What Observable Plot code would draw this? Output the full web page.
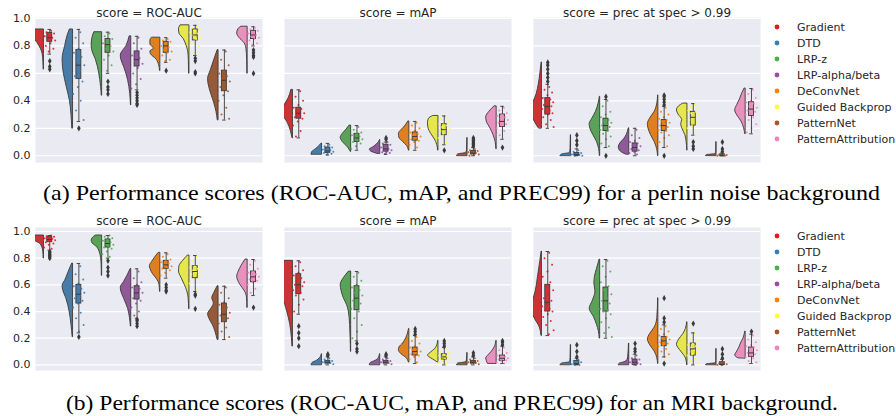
<!DOCTYPE html>
<html><head><meta charset="utf-8">
<script src="https://cdn.jsdelivr.net/npm/d3@7"></script>
<script src="https://cdn.jsdelivr.net/npm/@observablehq/plot@0.6"></script>
<style>
body{margin:0;background:#fff;}
#page{position:relative;width:896px;height:416px;overflow:hidden;font-family:'DejaVu Sans';}
.abs{position:absolute;}
</style></head><body>
<div id="page"><div id="row1" class="abs" style="left:0;top:0"></div><div id="row2" class="abs" style="left:0;top:205px"></div></div>
<script>
const methods = ["Gradient","DTD","LRP-z","LRP-alpha/beta","DeConvNet","Guided Backprop","PatternNet","PatternAttribution"];
const pointColors = ["#e41a1c","#377eb8","#4daf4a","#984ea3","#ff7f00","#ffff33","#a65628","#f781bf"];
const bodyColors = ["#cb3335","#477ca8","#59a257","#905998","#df7f20","#e6e64d","#965a38","#e890be"];
const scores = ["ROC-AUC","mAP","prec at spec > 0.99"];
const yTicks = [0,0.2,0.4,0.6,0.8,1.0];
const captions = ["(a) Performance scores (ROC-AUC, mAP, and PREC99) for a perlin noise background",
                  "(b) Performance scores (ROC-AUC, mAP, and PREC99) for an MRI background."];

// box stats: [lower whisker, q1, median, q3, upper whisker]
const perlinRocBox = [[0.74,0.83,0.86,0.895,0.92],[0.25,0.56,0.66,0.77,0.92],[0.60,0.75,0.81,0.85,0.90],[0.48,0.65,0.70,0.76,0.87],[0.68,0.75,0.80,0.83,0.86],[0.73,0.84,0.88,0.92,0.95],[0.26,0.47,0.55,0.62,0.77],[0.80,0.85,0.88,0.91,0.94]];
const perlinMapBox = [[0.13,0.27,0.31,0.35,0.48],[0.005,0.02,0.035,0.06,0.09],[0.04,0.10,0.13,0.16,0.22],[0.01,0.03,0.05,0.08,0.10],[0.04,0.11,0.14,0.17,0.25],[0.08,0.15,0.19,0.23,0.29],[0.0,0.01,0.02,0.035,0.06],[0.12,0.21,0.25,0.30,0.36]];
const perlinPrecBox = [[0.20,0.30,0.36,0.42,0.52],[0.0,0.0,0.01,0.02,0.05],[0.06,0.18,0.22,0.27,0.41],[0.0,0.03,0.06,0.09,0.20],[0.06,0.18,0.22,0.26,0.36],[0.15,0.22,0.28,0.32,0.38],[0.0,0.0,0.0,0.01,0.02],[0.16,0.29,0.34,0.39,0.49]];
const mriRocBox = [[0.86,0.92,0.94,0.96,0.97],[0.24,0.46,0.53,0.60,0.76],[0.80,0.88,0.91,0.94,0.97],[0.35,0.49,0.54,0.59,0.72],[0.65,0.72,0.75,0.78,0.84],[0.55,0.65,0.70,0.74,0.82],[0.19,0.32,0.38,0.46,0.59],[0.52,0.62,0.66,0.70,0.79]];
const mriMapBox = [[0.38,0.53,0.60,0.68,0.78],[0.0,0.01,0.02,0.03,0.06],[0.18,0.41,0.50,0.59,0.70],[0.0,0.01,0.02,0.03,0.06],[0.01,0.07,0.10,0.13,0.22],[0.0,0.04,0.06,0.08,0.13],[0.0,0.01,0.02,0.03,0.06],[0.01,0.03,0.05,0.07,0.14]];
const mriPrecBox = [[0.22,0.40,0.47,0.60,0.85],[0.0,0.0,0.01,0.03,0.05],[0.20,0.40,0.48,0.58,0.79],[0.0,0.0,0.02,0.04,0.08],[0.06,0.14,0.18,0.21,0.30],[0.0,0.07,0.12,0.16,0.24],[0.0,0.0,0.005,0.02,0.04],[0.01,0.06,0.09,0.13,0.23]];

// outliers
const perlinRocOut = [[0.69,0.65,0.63],[0.20],[0.54,0.50,0.48,0.45],[0.46,0.44,0.42,0.40,0.38,0.37],[0.62],[0.71,0.69,0.61,0.60],[],[0.77,0.75,0.73,0.72,0.60]];
const perlinMapOut = [[],[],[],[0.12,0.13],[],[0.04],[0.07,0.08,0.09,0.10,0.11,0.12,0.13],[0.06]];
const perlinPrecOut = [[0.54,0.57,0.60,0.63,0.66,0.68],[0.08,0.11,0.15],[0.43,0.0],[],[0.37,0.39,0.41,0.43,0.44,0.0],[0.10,0.07,0.05],[0.03,0.05,0.10],[]];
const mriRocOut = [[0.85,0.84,0.83,0.82,0.81,0.80],[0.21],[0.78,0.73,0.70,0.67],[0.34,0.33,0.31,0.29],[0.60,0.58,0.56,0.55],[0.53,0.52,0.42],[],[0.43]];
const mriMapOut = [[0.29,0.24,0.20,0.14],[0.07,0.08],[0.16,0.12,0.10],[0.07,0.08],[0.23,0.25,0.27],[0.14,0.16,0.18],[0.07,0.09],[0.15,0.17,0.18]];
const mriPrecOut = [[],[0.06,0.10,0.15],[],[0.10,0.12,0.16],[0.32,0.35,0.50,0.01],[0.31],[0.05,0.08,0.12],[0.25]];

// half-violin profiles: [value, relative width]
const perlinRocViolin = [
 [[0.63,0.03],[0.68,0.05],[0.74,0.12],[0.78,0.3],[0.82,0.6],[0.86,0.95],[0.89,1],[0.92,0.8]],
 [[0.2,0.08],[0.3,0.15],[0.4,0.3],[0.5,0.6],[0.6,0.88],[0.7,1],[0.8,0.75],[0.88,0.5],[0.92,0.3]],
 [[0.44,0.04],[0.5,0.1],[0.6,0.28],[0.7,0.6],[0.76,0.92],[0.8,1],[0.85,0.95],[0.9,0.75]],
 [[0.37,0.03],[0.45,0.1],[0.55,0.3],[0.64,0.65],[0.7,0.95],[0.73,1],[0.8,0.45],[0.87,0.15]],
 [[0.62,0.03],[0.66,0.12],[0.7,0.35],[0.74,0.9],[0.76,0.95],[0.78,0.6],[0.81,0.95],[0.84,0.95],[0.86,0.8]],
 [[0.6,0.04],[0.7,0.06],[0.76,0.12],[0.8,0.27],[0.85,0.55],[0.89,0.95],[0.92,1],[0.95,0.85]],
 [[0.26,0.08],[0.32,0.2],[0.38,0.4],[0.45,0.7],[0.52,0.95],[0.56,1],[0.62,0.75],[0.7,0.4],[0.77,0.08]],
 [[0.6,0.03],[0.7,0.05],[0.78,0.12],[0.82,0.3],[0.86,0.8],[0.89,1],[0.92,0.9],[0.94,0.6]]];
const perlinMapViolin = [
 [[0.13,0.05],[0.18,0.2],[0.24,0.5],[0.29,0.9],[0.32,1],[0.36,0.85],[0.42,0.4],[0.48,0.15]],
 [[0.01,1],[0.025,0.95],[0.05,0.55],[0.075,0.2],[0.09,0.03]],
 [[0.03,0.05],[0.06,0.3],[0.1,0.8],[0.13,1],[0.16,0.8],[0.19,0.45],[0.22,0.15]],
 [[0.015,0.3],[0.03,0.85],[0.045,1],[0.06,0.7],[0.08,0.35],[0.1,0.12],[0.115,0.02]],
 [[0.04,0.05],[0.07,0.2],[0.1,0.6],[0.13,0.95],[0.16,1],[0.19,0.7],[0.22,0.35],[0.25,0.1]],
 [[0.04,0.03],[0.08,0.12],[0.12,0.35],[0.16,0.7],[0.2,0.95],[0.24,1],[0.27,0.9],[0.29,0.5]],
 [[0.0,1],[0.01,0.9],[0.02,0.15],[0.04,0.05],[0.13,0.02]],
 [[0.05,0.03],[0.1,0.1],[0.15,0.3],[0.2,0.6],[0.25,0.95],[0.28,1],[0.32,0.7],[0.36,0.2]]];
const perlinPrecViolin = [
 [[0.2,0.3],[0.25,0.7],[0.3,0.95],[0.35,1],[0.4,0.75],[0.45,0.5],[0.52,0.3],[0.6,0.15],[0.68,0.03]],
 [[0.0,1],[0.01,0.85],[0.02,0.1],[0.05,0.05],[0.15,0.02]],
 [[0.0,0.03],[0.05,0.1],[0.1,0.3],[0.15,0.65],[0.2,0.95],[0.23,1],[0.27,0.75],[0.32,0.4],[0.38,0.15],[0.43,0.03]],
 [[0.01,0.35],[0.03,0.8],[0.06,1],[0.09,0.85],[0.12,0.5],[0.15,0.25],[0.2,0.05]],
 [[0.0,0.03],[0.05,0.12],[0.1,0.35],[0.15,0.7],[0.2,0.95],[0.23,1],[0.27,0.8],[0.32,0.35],[0.38,0.1],[0.44,0.02]],
 [[0.04,0.02],[0.1,0.08],[0.15,0.2],[0.2,0.5],[0.23,0.6],[0.26,0.5],[0.3,0.85],[0.33,1],[0.36,0.8],[0.38,0.4]],
 [[0.0,1],[0.005,0.9],[0.012,0.1],[0.03,0.03],[0.1,0.02]],
 [[0.16,0.05],[0.2,0.15],[0.25,0.4],[0.3,0.85],[0.33,1],[0.37,0.8],[0.41,0.55],[0.45,0.35],[0.49,0.1]]];
const mriRocViolin = [
 [[0.8,0.03],[0.85,0.06],[0.88,0.15],[0.91,0.4],[0.93,0.85],[0.95,1],[0.97,0.85]],
 [[0.21,0.04],[0.3,0.15],[0.4,0.33],[0.5,0.65],[0.56,0.95],[0.59,1],[0.64,0.7],[0.7,0.4],[0.76,0.08]],
 [[0.67,0.03],[0.75,0.05],[0.8,0.1],[0.85,0.25],[0.88,0.45],[0.91,0.9],[0.93,1],[0.95,0.9],[0.97,0.6]],
 [[0.29,0.04],[0.35,0.12],[0.42,0.3],[0.5,0.7],[0.55,0.95],[0.58,1],[0.62,0.7],[0.67,0.35],[0.72,0.05]],
 [[0.55,0.03],[0.6,0.08],[0.64,0.3],[0.68,0.7],[0.72,0.95],[0.74,1],[0.77,0.8],[0.8,0.55],[0.84,0.15]],
 [[0.42,0.03],[0.5,0.08],[0.55,0.2],[0.6,0.45],[0.65,0.75],[0.7,1],[0.74,0.95],[0.78,0.6],[0.82,0.15]],
 [[0.19,0.1],[0.25,0.3],[0.3,0.55],[0.35,0.9],[0.38,1],[0.42,0.7],[0.46,0.45],[0.5,0.6],[0.54,0.4],[0.59,0.08]],
 [[0.43,0.03],[0.5,0.06],[0.55,0.25],[0.6,0.7],[0.66,1],[0.7,0.85],[0.74,0.6],[0.79,0.2]]];
const mriMapViolin = [
 [[0.14,0.05],[0.2,0.1],[0.3,0.25],[0.4,0.55],[0.5,0.9],[0.6,1],[0.7,0.95],[0.78,0.8]],
 [[0.0,1],[0.015,0.9],[0.03,0.5],[0.05,0.2],[0.08,0.03]],
 [[0.1,0.02],[0.2,0.05],[0.3,0.1],[0.4,0.22],[0.45,0.4],[0.5,0.7],[0.55,0.9],[0.6,1],[0.65,0.7],[0.7,0.2]],
 [[0.0,1],[0.015,0.9],[0.03,0.45],[0.05,0.15],[0.08,0.03]],
 [[0.02,0.05],[0.05,0.25],[0.08,0.75],[0.11,1],[0.13,0.95],[0.16,0.6],[0.2,0.3],[0.27,0.03]],
 [[0.02,0.1],[0.04,0.5],[0.06,0.9],[0.07,1],[0.09,0.75],[0.12,0.3],[0.15,0.1],[0.18,0.03]],
 [[0.0,1],[0.01,0.9],[0.02,0.15],[0.04,0.05],[0.09,0.02]],
 [[0.01,0.85],[0.03,0.95],[0.05,1],[0.07,0.8],[0.1,0.45],[0.13,0.2],[0.18,0.03]]];
const mriPrecViolin = [
 [[0.22,0.05],[0.28,0.2],[0.35,0.7],[0.42,1],[0.48,0.85],[0.55,0.6],[0.62,0.45],[0.7,0.3],[0.78,0.15],[0.85,0.03]],
 [[0.0,1],[0.01,0.85],[0.02,0.1],[0.05,0.05],[0.15,0.02]],
 [[0.2,0.05],[0.25,0.12],[0.3,0.3],[0.36,0.6],[0.42,1],[0.48,0.7],[0.55,0.45],[0.61,0.55],[0.66,0.5],[0.72,0.3],[0.79,0.05]],
 [[0.0,1],[0.01,0.9],[0.02,0.45],[0.04,0.15],[0.08,0.08],[0.16,0.03]],
 [[0.01,0.03],[0.05,0.1],[0.1,0.35],[0.15,0.8],[0.19,1],[0.23,0.8],[0.28,0.35],[0.35,0.1],[0.5,0.02]],
 [[0.0,0.03],[0.05,0.15],[0.1,0.6],[0.15,1],[0.19,0.8],[0.23,0.4],[0.27,0.15],[0.32,0.03]],
 [[0.0,1],[0.005,0.9],[0.012,0.1],[0.03,0.03],[0.12,0.02]],
 [[0.05,0.7],[0.07,1],[0.1,0.8],[0.13,0.6],[0.16,0.45],[0.2,0.2],[0.25,0.04]]];

// strip points
const perlinRocPts = [
 [0.91,0.9,0.89,0.88,0.87,0.86,0.85,0.84,0.82,0.8,0.78,0.76],
 [0.9,0.86,0.82,0.78,0.75,0.72,0.69,0.66,0.62,0.58,0.54,0.5,0.45,0.4,0.33,0.26],
 [0.89,0.87,0.85,0.84,0.82,0.8,0.78,0.76,0.73,0.7,0.66,0.62],
 [0.86,0.82,0.78,0.75,0.73,0.71,0.69,0.67,0.64,0.6,0.56,0.52,0.49],
 [0.85,0.84,0.83,0.82,0.8,0.79,0.77,0.76,0.75,0.73,0.7,0.69],
 [0.94,0.93,0.92,0.91,0.9,0.89,0.88,0.86,0.85,0.83,0.8,0.75],
 [0.76,0.7,0.66,0.62,0.6,0.58,0.56,0.54,0.52,0.5,0.47,0.44,0.4,0.35,0.3,0.27],
 [0.93,0.92,0.91,0.9,0.89,0.88,0.87,0.86,0.85,0.84,0.82,0.81]];
const perlinMapPts = [
 [0.47,0.43,0.4,0.37,0.35,0.34,0.32,0.31,0.3,0.28,0.27,0.25,0.22,0.18,0.14],
 [0.08,0.07,0.06,0.05,0.045,0.04,0.035,0.03,0.025,0.02,0.015,0.01],
 [0.21,0.19,0.17,0.16,0.15,0.14,0.13,0.12,0.11,0.1,0.09,0.07,0.05],
 [0.1,0.09,0.08,0.07,0.06,0.05,0.045,0.04,0.03,0.025,0.02,0.015],
 [0.24,0.22,0.2,0.18,0.17,0.16,0.15,0.14,0.13,0.12,0.11,0.1,0.08,0.06],
 [0.28,0.27,0.25,0.24,0.23,0.22,0.21,0.2,0.19,0.18,0.17,0.15,0.13,0.1],
 [0.05,0.04,0.035,0.03,0.025,0.02,0.015,0.01,0.005,0.0],
 [0.35,0.33,0.31,0.3,0.29,0.28,0.27,0.26,0.25,0.24,0.23,0.22,0.2,0.18,0.15]];
const perlinPrecPts = [
 [0.5,0.48,0.46,0.44,0.42,0.41,0.4,0.39,0.38,0.37,0.36,0.35,0.34,0.33,0.32,0.31,0.3,0.28,0.26,0.23,0.21],
 [0.04,0.03,0.02,0.015,0.01,0.005,0.0,0.0],
 [0.4,0.36,0.32,0.3,0.28,0.26,0.25,0.24,0.23,0.22,0.21,0.2,0.19,0.18,0.16,0.14,0.12,0.09,0.07],
 [0.19,0.15,0.13,0.11,0.1,0.09,0.08,0.07,0.06,0.05,0.04,0.03,0.02,0.01],
 [0.35,0.32,0.3,0.28,0.27,0.26,0.25,0.24,0.23,0.22,0.21,0.2,0.19,0.18,0.17,0.15,0.13,0.1,0.07],
 [0.37,0.36,0.35,0.34,0.33,0.32,0.31,0.3,0.28,0.26,0.24,0.22,0.2,0.17],
 [0.01,0.008,0.005,0.003,0.0,0.0],
 [0.48,0.45,0.42,0.4,0.39,0.38,0.36,0.35,0.34,0.33,0.32,0.31,0.3,0.28,0.26,0.23,0.2,0.17]];
const mriRocPts = [
 [0.97,0.965,0.96,0.955,0.95,0.945,0.94,0.935,0.93,0.92,0.91,0.9,0.88,0.87],
 [0.74,0.68,0.64,0.61,0.59,0.57,0.55,0.54,0.52,0.5,0.48,0.46,0.43,0.39,0.35,0.3,0.25],
 [0.97,0.96,0.95,0.94,0.93,0.92,0.91,0.9,0.89,0.88,0.87,0.85,0.83,0.81],
 [0.7,0.65,0.62,0.6,0.58,0.57,0.55,0.54,0.52,0.5,0.48,0.46,0.43,0.4,0.37],
 [0.83,0.81,0.79,0.78,0.77,0.76,0.75,0.74,0.73,0.72,0.71,0.69,0.67],
 [0.81,0.78,0.76,0.74,0.73,0.72,0.71,0.7,0.69,0.68,0.66,0.64,0.61,0.57],
 [0.58,0.54,0.5,0.47,0.45,0.43,0.41,0.39,0.38,0.37,0.35,0.33,0.31,0.28,0.25,0.21],
 [0.78,0.75,0.72,0.7,0.69,0.68,0.67,0.66,0.65,0.64,0.63,0.62,0.6,0.57,0.54]];
const mriMapPts = [
 [0.77,0.74,0.71,0.69,0.67,0.65,0.63,0.62,0.61,0.6,0.59,0.58,0.56,0.54,0.52,0.49,0.45,0.4],
 [0.05,0.04,0.03,0.025,0.02,0.015,0.01,0.005],
 [0.69,0.66,0.63,0.6,0.58,0.56,0.54,0.52,0.5,0.48,0.46,0.44,0.42,0.4,0.35,0.3,0.25,0.2],
 [0.05,0.04,0.03,0.025,0.02,0.015,0.01,0.005],
 [0.21,0.18,0.16,0.14,0.13,0.12,0.11,0.1,0.09,0.08,0.07,0.06,0.04,0.02],
 [0.12,0.1,0.09,0.08,0.07,0.065,0.06,0.055,0.05,0.045,0.04,0.03,0.02,0.01],
 [0.05,0.04,0.03,0.025,0.02,0.015,0.01,0.005],
 [0.13,0.11,0.09,0.08,0.07,0.06,0.055,0.05,0.045,0.04,0.035,0.03,0.02,0.01]];
const mriPrecPts = [
 [0.84,0.8,0.75,0.7,0.66,0.62,0.59,0.56,0.53,0.5,0.48,0.46,0.44,0.42,0.41,0.4,0.38,0.36,0.33,0.3,0.26,0.23],
 [0.04,0.03,0.02,0.01,0.005,0.0,0.0],
 [0.78,0.74,0.7,0.66,0.62,0.59,0.56,0.53,0.5,0.48,0.46,0.44,0.42,0.41,0.4,0.38,0.35,0.32,0.28,0.24,0.21],
 [0.07,0.05,0.04,0.03,0.02,0.015,0.01,0.005,0.0],
 [0.29,0.27,0.25,0.23,0.22,0.21,0.2,0.19,0.18,0.17,0.16,0.15,0.14,0.12,0.1,0.08,0.06],
 [0.23,0.2,0.18,0.16,0.15,0.14,0.13,0.12,0.11,0.1,0.09,0.08,0.07,0.05,0.03,0.01],
 [0.02,0.01,0.005,0.0,0.0],
 [0.22,0.19,0.17,0.15,0.14,0.13,0.12,0.11,0.1,0.09,0.08,0.07,0.06,0.05,0.03,0.02]];

const rowsSets = [
  [{box: perlinRocBox, out: perlinRocOut, vio: perlinRocViolin, pts: perlinRocPts},
   {box: perlinMapBox, out: perlinMapOut, vio: perlinMapViolin, pts: perlinMapPts},
   {box: perlinPrecBox, out: perlinPrecOut, vio: perlinPrecViolin, pts: perlinPrecPts}],
  [{box: mriRocBox, out: mriRocOut, vio: mriRocViolin, pts: mriRocPts},
   {box: mriMapBox, out: mriMapOut, vio: mriMapViolin, pts: mriMapPts},
   {box: mriPrecBox, out: mriPrecOut, vio: mriPrecViolin, pts: mriPrecPts}]
];

const INK = "#3a3a3a";
const VIO_BASE = 0.2, VIO_W = 0.36, BOX_HW = 0.085, CAP_HW = 0.06;
const jitter = k => ((((k + 1) * 0.618034) % 1) - 0.5) * 0.42;

function makeRow(sets, layout) {
  const violins = [], boxes = [], outs = [], pts = [];
  sets.forEach((s, si) => {
    const score = scores[si];
    methods.forEach((m, mi) => {
      s.vio[mi].forEach(([v, w]) => violins.push({score, mi, v, w}));
      const [lo, q1, med, q3, hi] = s.box[mi];
      boxes.push({score, mi, lo, q1, med, q3, hi});
      s.out[mi].forEach(v => outs.push({score, mi, v}));
      s.pts[mi].forEach((v, k) => pts.push({score, mi, v, k}));
    });
  });
  return Plot.plot({
    width: 765, height: layout.height,
    marginLeft: 34, marginRight: 5, marginTop: layout.marginTop, marginBottom: 6,
    style: {fontFamily: "'DejaVu Sans'", color: "#262626", background: "transparent"},
    fx: {domain: scores, paddingInner: 0.09, paddingOuter: 0},
    x: {domain: [-0.49, 7.31], axis: null},
    y: {domain: layout.yDomain},
    color: {type: "identity"},
    marks: [
      Plot.frame({fill: "#eaeaf2", stroke: "none"}),
      Plot.gridY(yTicks, {stroke: "white", strokeOpacity: 1, strokeWidth: 1.2}),
      Plot.areaX(violins, {fx: "score", y: "v", z: "mi",
        x1: d => d.mi - VIO_BASE - d.w * VIO_W, x2: d => d.mi - VIO_BASE,
        fill: d => bodyColors[d.mi], stroke: INK, strokeWidth: 0.9, curve: "monotone-y", clip: true}),
      Plot.rect(boxes, {fx: "score", x1: d => d.mi - BOX_HW, x2: d => d.mi + BOX_HW, y1: "q1", y2: "q3",
        fill: d => bodyColors[d.mi], stroke: INK, strokeWidth: 0.9}),
      Plot.dot(pts, {fx: "score", x: d => d.mi + jitter(d.k), y: "v", r: 1.0,
        fill: d => pointColors[d.mi], fillOpacity: 0.9, stroke: "none"}),
      Plot.ruleX(boxes, {fx: "score", x: "mi", y1: "q3", y2: "hi", stroke: INK, strokeWidth: 0.9}),
      Plot.ruleX(boxes, {fx: "score", x: "mi", y1: "lo", y2: "q1", stroke: INK, strokeWidth: 0.9}),
      Plot.ruleY(boxes, {fx: "score", y: "hi", x1: d => d.mi - CAP_HW, x2: d => d.mi + CAP_HW, stroke: INK, strokeWidth: 0.9}),
      Plot.ruleY(boxes, {fx: "score", y: "lo", x1: d => d.mi - CAP_HW, x2: d => d.mi + CAP_HW, stroke: INK, strokeWidth: 0.9}),
      Plot.ruleY(boxes, {fx: "score", y: "med", x1: d => d.mi - BOX_HW, x2: d => d.mi + BOX_HW, stroke: INK, strokeWidth: 1}),
      Plot.dot(outs, {fx: "score", x: "mi", y: "v", symbol: "diamond", r: 1.9, fill: INK, stroke: "none"}),
      Plot.axisY({ticks: yTicks, tickFormat: d => d.toFixed(1), tickSize: 0, tickPadding: 5, fontSize: 11, label: null, facetAnchor: "left"}),
      Plot.axisFx({anchor: "top", tickSize: 0, tickPadding: layout.titlePad, fontSize: 12, label: null, tickFormat: d => "score = " + d})
    ]
  });
}

document.getElementById("row1").append(makeRow(rowsSets[0], {height: 168, marginTop: 17, yDomain: [-0.049, 1.007], titlePad: 1}));
document.getElementById("row2").append(makeRow(rowsSets[1], {height: 171, marginTop: 22, yDomain: [-0.042, 1.03], titlePad: 3}));

// overlay: legends and captions
const over = d3.select("#page").append("svg").attr("class", "abs")
  .style("left", "0px").style("top", "0px").attr("width", 896).attr("height", 416)
  .style("pointer-events", "none");
[27, 236].forEach(y0 => {
  const g = over.append("g").attr("font-family", "DejaVu Sans").attr("font-size", 11).attr("fill", "#262626");
  methods.forEach((m, i) => {
    g.append("circle").attr("cx", 777).attr("cy", y0 + i * 16).attr("r", 2.4).attr("fill", pointColors[i]);
    g.append("text").attr("x", 797).attr("y", y0 + i * 16).attr("dy", "0.35em").text(m);
  });
});
[[captions[0], 43, 200, 837], [captions[1], 66, 409.5, 772]].forEach(([t, x, y, len]) => {
  over.append("text").attr("x", x).attr("y", y)
    .attr("font-family", "'Times New Roman', serif")
    .attr("font-size", 22).attr("fill", "#000").attr("textLength", len)
    .attr("lengthAdjust", "spacingAndGlyphs").text(t);
});
</script>
</body></html>
